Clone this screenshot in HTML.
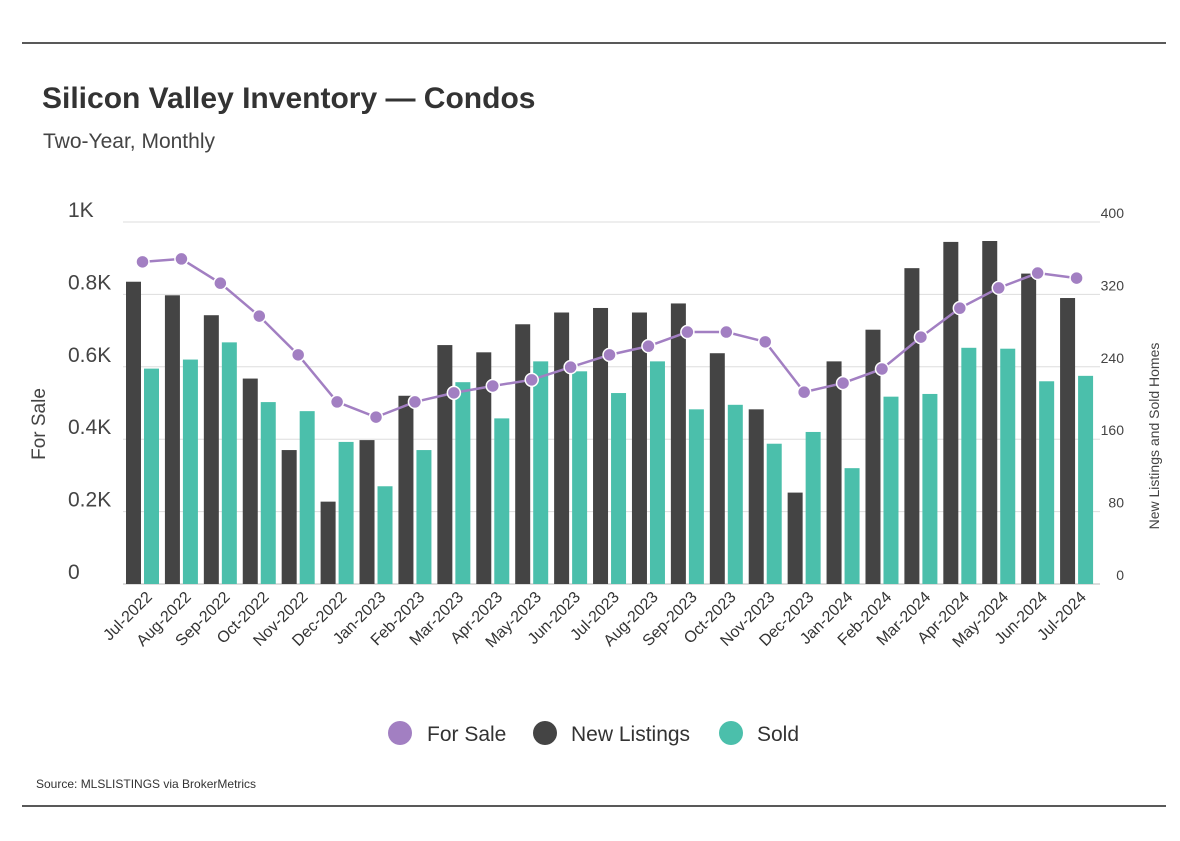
<!DOCTYPE html>
<html><head><meta charset="utf-8"><style>
body{margin:0;background:#fff;font-family:"Liberation Sans",sans-serif;}
svg text{font-family:"Liberation Sans",sans-serif;}
</style></head><body>
<svg id="c" width="1180" height="836" xmlns="http://www.w3.org/2000/svg">
<line x1="22" y1="43" x2="1166" y2="43" stroke="#222" stroke-width="1.5"/>
<line x1="22" y1="806" x2="1166" y2="806" stroke="#222" stroke-width="1.5"/>
<text x="42" y="108" font-size="30" font-weight="bold" fill="#333">Silicon Valley Inventory — Condos</text>
<text x="43" y="148" font-size="21" fill="#444">Two-Year, Monthly</text>
<text transform="translate(45,424) rotate(-90)" text-anchor="middle" font-size="19" fill="#444">For Sale</text>
<text transform="translate(1159,436) rotate(-90)" text-anchor="middle" font-size="14" fill="#444">New Listings and Sold Homes</text>
<g id="grid"></g><g id="bars"></g><g id="line"></g><g id="axes"></g>
<g>
<circle cx="400" cy="733" r="12" fill="#a27fc2"/>
<text x="427" y="741" font-size="21" fill="#333">For Sale</text>
<circle cx="545" cy="733" r="12" fill="#444"/>
<text x="571" y="741" font-size="21" fill="#333">New Listings</text>
<circle cx="731" cy="733" r="12" fill="#4bbfab"/>
<text x="757" y="741" font-size="21" fill="#333">Sold</text>
</g>
<text x="36" y="788" font-size="12" fill="#333">Source:  MLSLISTINGS via BrokerMetrics</text>
</svg>
<script>
const months=["Jul-2022","Aug-2022","Sep-2022","Oct-2022","Nov-2022","Dec-2022","Jan-2023","Feb-2023","Mar-2023","Apr-2023","May-2023","Jun-2023","Jul-2023","Aug-2023","Sep-2023","Oct-2023","Nov-2023","Dec-2023","Jan-2024","Feb-2024","Mar-2024","Apr-2024","May-2024","Jun-2024","Jul-2024"];
const newListings=[334,319,297,227,148,91,159,208,264,256,287,300,305,300,310,255,193,101,246,281,349,378,379,343,316];
const sold=[238,248,267,201,191,157,108,148,223,183,246,235,211,246,193,198,155,168,128,207,210,261,260,224,230];
const forSale=[890,898,831,740,633,503,461,503,528,547,564,599,633,657,696,696,669,530,555,594,682,762,818,859,845];
const leftTicks=["0","0.2K","0.4K","0.6K","0.8K","1K"];
const rightTicks=["0","80","160","240","320","400"];
const NS="http://www.w3.org/2000/svg";
const y0=584,y1=222,x0=123,slot=38.92;
const yL=v=>y0-(v/1000)*(y0-y1);
const yR=v=>y0-(v/400)*(y0-y1);
const xs=i=>x0+3+i*slot;
function mk(t,a,p){const e=document.createElementNS(NS,t);for(const k in a)e.setAttribute(k,a[k]);document.getElementById(p).appendChild(e);return e;}
leftTicks.forEach((t,i)=>{
  const y=y0-i*(y0-y1)/5;
  const g=mk("line",{x1:x0,x2:1100,y1:y,y2:y,stroke:i==0?"#bbb":"#ddd","stroke-width":1},"grid");
  
  
  const l=mk("text",{x:68,y:y-5,"font-size":21,fill:"#444"},"axes");l.textContent=t;
  
  
  const r=mk("text",{x:1124,y:y-4,"font-size":14,fill:"#444","text-anchor":"end"},"axes");r.textContent=rightTicks[i];
  
  
});
months.forEach((m,i)=>{
  const x=xs(i);
  const b=mk("rect",{x:x,y:yR(newListings[i]),width:15,height:y0-yR(newListings[i]),fill:"#444"},"bars");
  
  
  const s=mk("rect",{x:x+18,y:yR(sold[i]),width:15,height:y0-yR(sold[i]),fill:"#4bbfab"},"bars");
  
  
  const t=mk("text",{transform:`translate(${x+27},${598}) rotate(-45)`,"text-anchor":"end","font-size":16,fill:"#333"},"axes");t.textContent=m;
  
  
});
const pts=forSale.map((v,i)=>[xs(i)+16.5,yL(v)]);
const pl=mk("polyline",{points:pts.map(p=>p.join(",")).join(" "),fill:"none",stroke:"#a27fc2","stroke-width":2.5},"line");


pts.forEach(p=>{
  const c=mk("circle",{cx:p[0],cy:p[1],r:6.5,fill:"#a27fc2",stroke:"#fff","stroke-width":1.5},"line");
  
  
});
</script>
</body></html>
